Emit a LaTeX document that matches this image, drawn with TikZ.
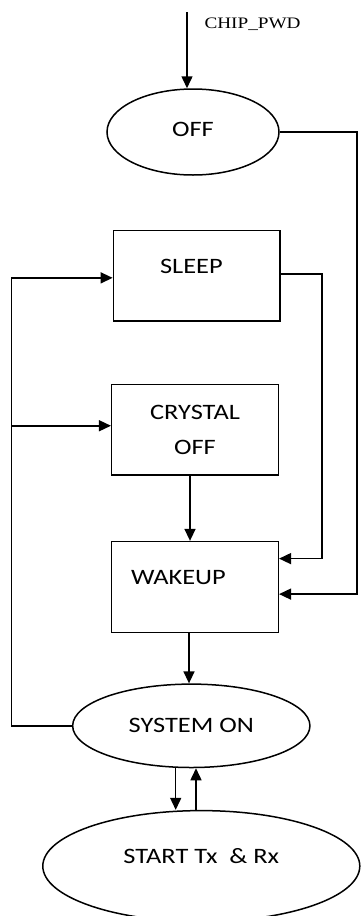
\documentclass[tikz,border=0pt]{standalone}
\usepackage{fontspec}
\usetikzlibrary{shapes,arrows.meta,positioning,calc}
\newfontfamily\boxfont[FakeStretch=1.2]{Carlito}
\newfontfamily\sigfont[FakeStretch=1.2]{Liberation Serif}

\begin{document}
\begin{tikzpicture}[
  x=1pt, y=1pt,
  state/.style={rectangle, draw, line width=1.5pt, inner sep=0pt, minimum width=166.6pt, minimum height=90.7pt, align=center, font=\boxfont\fontsize{22}{35}\selectfont},
  mode/.style={ellipse, draw, line width=1.5pt, inner sep=0pt, font=\boxfont\fontsize{22}{26}\selectfont},
  arrow/.style={-{Triangle[length=12pt,width=11pt]}, line width=1.5pt}
]
  \useasboundingbox (0,0) rectangle (361,-916);
  % Power-down input
  \coordinate (chip) at (187,-12);
  \node[font=\sigfont\fontsize{16}{18}\selectfont, anchor=west] (chiplbl) at (201,-24) {CHIP\_PWD};
  % States
  \node[mode, minimum width=172pt, minimum height=86pt, text depth=5pt] (off) at (193,-132) {OFF};
  \node[state, below=54pt of off, xshift=3.7pt, text width=73.3pt, inner xsep=46.7pt, align=left, text depth=19pt] (sleep) {SLEEP};
  \node[state, below=61.7pt of sleep, xshift=-1.7pt] (crystal) {CRYSTAL\\OFF};
  \node[state, below=65pt of crystal, minimum height=91pt, text width=128pt, inner xsep=19.3pt, align=left, text depth=20pt] (wakeup) {WAKEUP};
  \node[mode, below=50pt of wakeup, xshift=-3.7pt, minimum width=237.3pt, minimum height=83.4pt] (sys) {SYSTEM ON};
  \node[mode, below=41.6pt of sys, xshift=10pt, minimum width=317pt, minimum height=111pt, text depth=21pt] (start) {START Tx\ \ \& Rx};
  % Arrows
  \draw[arrow] (chip) -- (chip |- off.north);
  \draw[arrow] (off.east) -- ++(77pt,0) |- ([yshift=-7pt]wakeup.east);
  \draw[arrow] ([yshift=2pt]sleep.east) -- ++(41pt,0) |- ([yshift=28.5pt]wakeup.east);
  \draw[arrow] ([xshift=-5pt]crystal.south) -- ([xshift=-5pt]wakeup.north);
  \draw[arrow] ([xshift=-6pt]wakeup.south) -- ([xshift=-2.3pt]sys.north);
  \draw[arrow] (sys.west) -- ++(-60.4pt,0) coordinate (lft) |- ([yshift=-2pt]sleep.west);
  \coordinate (cin) at ([yshift=4pt]crystal.west);
  \draw[arrow] (lft |- cin) -- (cin);
  \draw[arrow] ([xshift=-15.6pt]sys.south) -- ([xshift=-25.6pt]start.north);
  \draw[arrow] ([xshift=-5.3pt]start.north) -- ([xshift=4.7pt]sys.south);
\end{tikzpicture}
\end{document}
